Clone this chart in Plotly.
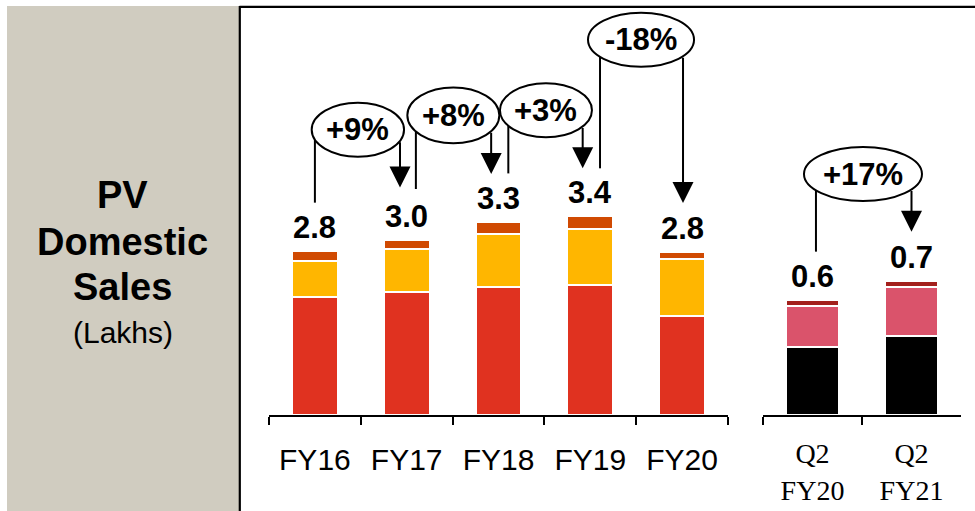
import math
import plotly.graph_objects as go

W, H = 975, 511

# ---------------- data ----------------
fy_cats = ["FY16", "FY17", "FY18", "FY19", "FY20"]
fy_red = [2.02, 2.10, 2.19, 2.23, 1.69]
fy_yellow = [0.62, 0.73, 0.90, 0.95, 0.98]
fy_orange = [0.16, 0.17, 0.21, 0.22, 0.11]
fy_labels = ["2.8", "3.0", "3.3", "3.4", "2.8"]

q_cats = ["Q2<br>FY20", "Q2<br>FY21"]
q_black = [0.357, 0.412]
q_pink = [0.213, 0.258]
q_dark = [0.030, 0.030]
q_labels = ["0.6", "0.7"]

growth_fy = ["+9%", "+8%", "+3%", "-18%"]
growth_q = ["+17%"]

RED, YEL, ORA = "#E03220", "#FFB600", "#D04A02"
BLK, PINK, DRED = "#000000", "#DA536B", "#A3201C"

# ---------------- figure ----------------
fig = go.Figure()

def add_bars(cats, vals, color, xa, ya, width):
    fig.add_trace(go.Bar(x=cats, y=vals, width=width,
                         marker=dict(color=color, line=dict(color="white", width=2)),
                         xaxis=xa, yaxis=ya, hoverinfo="skip"))

add_bars(fy_cats, fy_red, RED, "x", "y", 0.5)
add_bars(fy_cats, fy_yellow, YEL, "x", "y", 0.5)
add_bars(fy_cats, fy_orange, ORA, "x", "y", 0.5)
add_bars(q_cats, q_black, BLK, "x2", "y2", 0.54)
add_bars(q_cats, q_pink, PINK, "x2", "y2", 0.54)
add_bars(q_cats, q_dark, DRED, "x2", "y2", 0.54)

ydom = [1 - 415 / H, 1 - 8 / H]
axis_common = dict(type="category", showgrid=False, zeroline=False, showline=True,
                   linecolor="black", linewidth=1.5, ticks="outside", tickson="boundaries",
                   ticklen=8, tickwidth=1.5, tickcolor="black", fixedrange=True)

fig.update_layout(
    width=W, height=H, margin=dict(l=0, r=0, t=0, b=0),
    paper_bgcolor="white", plot_bgcolor="rgba(0,0,0,0)",
    barmode="stack", showlegend=False,
    xaxis=dict(domain=[269 / W, 728 / W], range=[-0.5, 4.5], anchor="y", ticklabelstandoff=17,
               tickfont=dict(family="Liberation Sans, Arial", size=30, color="black"), **axis_common),
    yaxis=dict(domain=ydom, range=[0, 407 / 58.5], visible=False, anchor="x"),
    xaxis2=dict(domain=[763 / W, 961 / W], range=[-0.5, 1.5], anchor="y2", ticklabelstandoff=13,
                tickfont=dict(family="Liberation Serif, Georgia, serif", size=28, color="black"), **axis_common),
    yaxis2=dict(domain=ydom, range=[0, 407 / 191.5], visible=False, anchor="x2"),
)

shapes = []
annotations = []

# left grey panel & frame
shapes.append(dict(type="rect", xref="paper", yref="paper", x0=7 / W, x1=239 / W, y0=0, y1=1 - 6 / H,
                   fillcolor="#D0CCC0", line=dict(width=0), layer="below"))
shapes.append(dict(type="line", xref="paper", yref="paper", x0=239.5 / W, x1=1, y0=1 - 6.8 / H, y1=1 - 6.8 / H,
                   line=dict(color="black", width=2.2)))
shapes.append(dict(type="line", xref="paper", yref="paper", x0=239.8 / W, x1=239.8 / W, y0=0, y1=1 - 6 / H,
                   line=dict(color="black", width=2.2)))

panel_text = [("PV", 195, 38, True), ("Domestic", 242, 38, True), ("Sales", 287, 38, True), ("(Lakhs)", 332, 30, False)]
for txt, yy, sz, bold in panel_text:
    annotations.append(dict(xref="paper", yref="paper", x=123 / W, y=1 - yy / H, xanchor="center", yanchor="middle",
                            text=f"<b>{txt}</b>" if bold else txt, showarrow=False,
                            font=dict(family="Liberation Sans, Arial", size=sz, color="black")))

# value labels above bars
for i, c in enumerate(fy_cats):
    tot = fy_red[i] + fy_yellow[i] + fy_orange[i]
    annotations.append(dict(xref="x", yref="y", x=c, y=tot, yanchor="bottom", yshift=4, showarrow=False,
                            text=f"<b>{fy_labels[i]}</b>",
                            font=dict(family="Liberation Sans, Arial", size=31, color="black")))
for i, c in enumerate(q_cats):
    tot = q_black[i] + q_pink[i] + q_dark[i]
    annotations.append(dict(xref="x2", yref="y2", x=i, y=tot, yanchor="bottom", yshift=4, showarrow=False,
                            text=f"<b>{q_labels[i]}</b>",
                            font=dict(family="Liberation Sans, Arial", size=31, color="black")))

# growth callouts: ellipse box (x0,x1,y0,y1), left stem (x, bottom), arrow (x, tip)
callouts = [
    ("x", "y", growth_fy[0], (-0.035, 0.971, 4.415, 5.338), (0.00, 3.63), (0.927, 3.89)),
    ("x", "y", growth_fy[1], (1.007, 2.009, 4.644, 5.600), (1.10, 3.863), (1.92, 4.12)),
    ("x", "y", growth_fy[2], (2.016, 3.018, 4.747, 5.670), (2.107, 4.13), (2.917, 4.217)),
    ("x", "y", growth_fy[3], (2.975, 4.130, 5.954, 6.877), (3.106, 4.217), (4.01, 3.624)),
    ("x2", "y2", growth_q[0], (-0.086, 1.106, 1.117, 1.400), (0.035, 0.853), (1.0, 0.957)),
]

for xr, yr, txt, (ex0, ex1, ey0, ey1), (lx, lb), (ax_, tip) in callouts:
    cx, cy = (ex0 + ex1) / 2, (ey0 + ey1) / 2
    rx, ry = (ex1 - ex0) / 2, (ey1 - ey0) / 2

    def edge_y(x):
        t = max(0.0, 1 - ((x - cx) / rx) ** 2)
        return cy - ry * math.sqrt(t)

    shapes.append(dict(type="line", xref=xr, yref=yr, x0=lx, x1=lx, y0=edge_y(lx), y1=lb,
                       line=dict(color="black", width=2)))
    shapes.append(dict(type="circle", xref=xr, yref=yr, x0=ex0, x1=ex1, y0=ey0, y1=ey1,
                       fillcolor="white", line=dict(color="black", width=2)))
    annotations.append(dict(xref=xr, yref=yr, x=cx, y=cy, text=f"<b>{txt}</b>", showarrow=False,
                            xanchor="center", yanchor="middle",
                            font=dict(family="Liberation Sans, Arial", size=31, color="black")))
    annotations.append(dict(xref=xr, yref=yr, x=ax_, y=tip, axref=xr, ayref=yr, ax=ax_, ay=edge_y(ax_),
                            text="", showarrow=True, arrowhead=2, arrowsize=2.1, arrowwidth=2,
                            arrowcolor="black", standoff=0))

fig.update_layout(shapes=shapes, annotations=annotations)
fig.write_html("out.html")
